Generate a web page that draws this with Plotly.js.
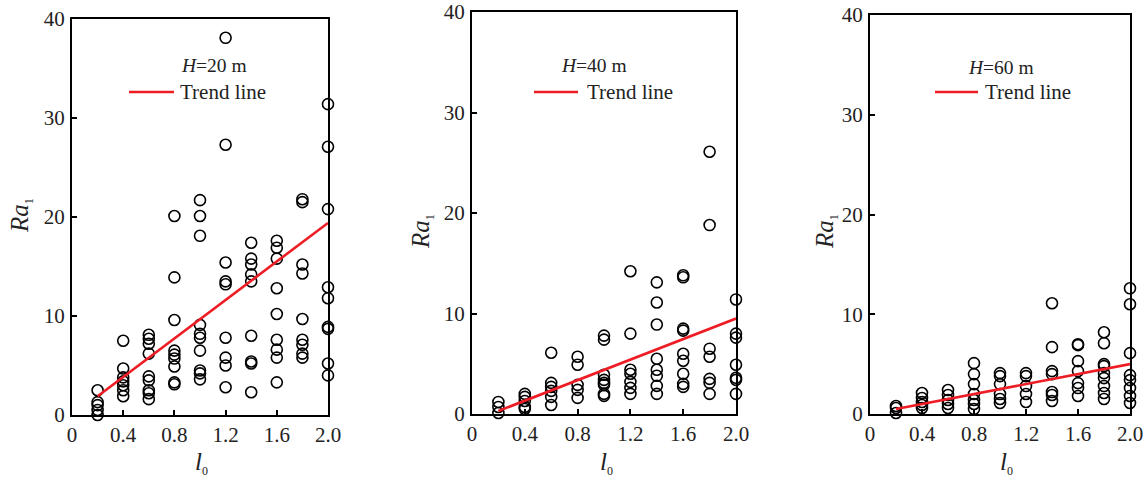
<!DOCTYPE html>
<html>
<head>
<meta charset="utf-8">
<script src="https://cdn.plot.ly/plotly-3.0.1.min.js"></script>
<style>html,body{margin:0;padding:0;background:#fff}#chart{width:1147px;height:478px}</style>
</head>
<body>
<div id="chart"></div>
<script>
// ---- Data ----
const lengths = [0.2, 0.4, 0.6, 0.8, 1.0, 1.2, 1.4, 1.6, 1.8, 2.0];

// H = 20 m : Ra1 values per l0 column
const h20 = [
  [2.5, 1.3, 1.0, 0.5, 0.0],
  [7.5, 4.7, 3.8, 3.4, 3.0, 2.5, 1.9],
  [8.1, 7.7, 7.2, 6.2, 3.9, 3.5, 2.5, 2.2, 1.6],
  [20.1, 13.9, 9.6, 6.5, 6.1, 5.7, 4.9, 3.3, 3.1],
  [21.7, 20.1, 18.1, 9.1, 8.2, 7.8, 6.5, 4.5, 4.2, 3.6],
  [38.1, 27.3, 15.4, 13.5, 13.2, 7.8, 5.8, 5.0, 2.8],
  [17.4, 15.8, 15.2, 14.2, 13.5, 8.0, 5.4, 5.2, 2.3],
  [17.6, 16.9, 15.8, 12.8, 10.2, 7.6, 6.6, 5.8, 3.3],
  [21.8, 21.5, 15.2, 14.3, 9.7, 7.6, 7.1, 6.2, 5.8],
  [31.4, 27.1, 20.8, 12.9, 11.8, 8.9, 8.7, 5.2, 4.0]
];
// H = 40 m
const h40 = [
  [1.2, 0.7, 0.1],
  [2.0, 1.7, 1.3, 0.7, 0.5],
  [6.1, 3.1, 2.7, 2.3, 1.7, 0.9],
  [5.7, 4.9, 2.9, 2.4, 1.6],
  [7.8, 7.4, 3.9, 3.4, 3.1, 2.9, 2.0, 1.8],
  [14.2, 8.0, 4.4, 4.0, 3.2, 2.6, 2.0],
  [13.1, 11.1, 8.9, 5.5, 4.4, 3.8, 2.8, 2.0],
  [13.8, 13.6, 8.5, 8.3, 6.0, 5.3, 4.0, 3.0, 2.7],
  [26.1, 18.8, 6.5, 5.7, 3.5, 3.1, 2.0],
  [11.4, 8.0, 7.6, 4.9, 3.6, 3.4, 2.0]
];
// H = 60 m
const h60 = [
  [0.8, 0.6, 0.1],
  [2.1, 1.6, 1.2, 0.9, 0.6],
  [2.4, 1.9, 1.4, 1.0, 0.6],
  [5.1, 4.0, 3.0, 2.0, 1.4, 1.0, 0.5],
  [4.1, 3.8, 3.0, 2.0, 1.5, 1.1],
  [4.1, 3.8, 2.8, 2.0, 1.2],
  [11.1, 6.7, 4.3, 4.0, 2.2, 1.9, 1.3],
  [7.0, 6.9, 5.3, 4.3, 3.1, 2.6, 1.8],
  [8.2, 7.1, 5.0, 4.8, 4.1, 3.6, 2.8, 2.1, 1.5],
  [12.6, 11.0, 6.1, 3.9, 3.4, 2.6, 1.8, 1.1]
];

// Trend lines (start / end)
const trendX = [0.2, 2.0];
const trend20 = [1.9, 19.4];
const trend40 = [0.3, 9.5];
const trend60 = [0.5, 5.0];

const panelLabels = ["<i>H</i>=20 m", "<i>H</i>=40 m", "<i>H</i>=60 m"];
const legendText = "Trend line";
const yTitle = '<i>Ra</i><sub><span style="font-size:12px">1</span></sub>';
const xTitle = '<i>l</i><sub><span style="font-size:12px">0</span></sub>';
const xTickVals = [0, 0.4, 0.8, 1.2, 1.6, 2.0];
const xTickText = ["0", "0.4", "0.8", "1.2", "1.6", "2.0"];
const yTickVals = [0, 10, 20, 30, 40];

// ---- Build ----
const W = 1147, H = 478;
const px = v => v / W;
const py = v => 1 - v / H;
const FONT = 'Liberation Serif';

function flatten(groups) {
  const xs = [], ys = [];
  groups.forEach((g, i) => g.forEach(v => { xs.push(lengths[i]); ys.push(v); }));
  return {xs, ys};
}

const datasets = [h20, h40, h60];
const trends = [trend20, trend40, trend60];
const traces = [];
datasets.forEach((d, i) => {
  const f = flatten(d);
  const xa = i === 0 ? 'x' : 'x' + (i + 1);
  const ya = i === 0 ? 'y' : 'y' + (i + 1);
  traces.push({
    x: f.xs, y: f.ys, xaxis: xa, yaxis: ya, type: 'scatter', mode: 'markers',
    cliponaxis: false, showlegend: false, hoverinfo: 'x+y',
    marker: {symbol: 'circle-open', size: 11, color: '#000', line: {width: 1.6, color: '#000'}}
  });
  traces.push({
    x: trendX, y: trends[i], xaxis: xa, yaxis: ya, type: 'scatter', mode: 'lines',
    cliponaxis: false, showlegend: false,
    line: {color: '#ee1c24', width: 2.6}
  });
});

// pixel geometry of the three frames
const frames = [
  {l: 72, r: 328, t: 19, b: 415},
  {l: 472, r: 736, t: 12, b: 414},
  {l: 870, r: 1130, t: 15, b: 414}
];

const layout = {
  width: W, height: H,
  margin: {l: 0, r: 0, t: 0, b: 0},
  paper_bgcolor: '#fff', plot_bgcolor: '#fff',
  font: {family: FONT, size: 21, color: '#222'},
  showlegend: false,
  annotations: [], shapes: []
};

frames.forEach((fr, i) => {
  const sx = i === 0 ? '' : String(i + 1);
  layout['xaxis' + sx] = {
    domain: [px(fr.l), px(fr.r)], anchor: 'y' + sx, range: [0, 2.0],
    tickvals: xTickVals, ticktext: xTickText, ticks: 'inside', ticklen: 5, tickwidth: 1.5,
    tickcolor: '#000', showline: true, linecolor: '#000', linewidth: 2, mirror: true,
    showgrid: false, zeroline: false, automargin: false, ticklabelstandoff: 0,
    tickfont: {family: FONT, size: 21, color: '#222'}
  };
  layout['yaxis' + sx] = {
    domain: [py(fr.b), py(fr.t)], anchor: 'x' + sx, range: [0, 40],
    tickvals: yTickVals, ticks: 'inside', ticklen: 5, tickwidth: 1.5,
    tickcolor: '#000', showline: true, linecolor: '#000', linewidth: 2, mirror: true,
    showgrid: false, zeroline: false, automargin: false, ticklabelstandoff: 1,
    tickfont: {family: FONT, size: 21, color: '#222'}
  };
});

// Axis titles and in-plot labels (pixel positions)
const yTitlePos = [{x: 21, y: 216}, {x: 422, y: 232}, {x: 826, y: 232}];
const xTitlePos = [{x: 201, y: 463}, {x: 606, y: 463}, {x: 1006, y: 463}];
const hLabelPos = [{x: 214, y: 66}, {x: 594, y: 66}, {x: 1001, y: 67}];
const legLine = [{x0: 129, x1: 174, y: 92}, {x0: 534, x1: 578, y: 92}, {x0: 935, x1: 978, y: 92}];
const legTextX = [178, 585, 983];

for (let i = 0; i < 3; i++) {
  layout.annotations.push({
    xref: 'paper', yref: 'paper', x: px(yTitlePos[i].x), y: py(yTitlePos[i].y),
    text: yTitle, showarrow: false, textangle: -90,
    xanchor: 'center', yanchor: 'middle', font: {family: FONT, size: 25, color: '#222'}
  });
  layout.annotations.push({
    xref: 'paper', yref: 'paper', x: px(xTitlePos[i].x), y: py(xTitlePos[i].y),
    text: xTitle, showarrow: false,
    xanchor: 'center', yanchor: 'middle', font: {family: FONT, size: 25, color: '#222'}
  });
  layout.annotations.push({
    xref: 'paper', yref: 'paper', x: px(hLabelPos[i].x), y: py(hLabelPos[i].y),
    text: panelLabels[i], showarrow: false,
    xanchor: 'center', yanchor: 'middle', font: {family: FONT, size: 19.5, color: '#222'}
  });
  layout.annotations.push({
    xref: 'paper', yref: 'paper', x: px(legTextX[i]), y: py(legLine[i].y),
    text: legendText, showarrow: false,
    xanchor: 'left', yanchor: 'middle', font: {family: FONT, size: 21, color: '#222'}
  });
  layout.shapes.push({
    type: 'line', xref: 'paper', yref: 'paper',
    x0: px(legLine[i].x0), x1: px(legLine[i].x1), y0: py(legLine[i].y), y1: py(legLine[i].y),
    line: {color: '#ee1c24', width: 2.6}
  });
}

Plotly.newPlot('chart', traces, layout, {displayModeBar: false});
</script>
</body>
</html>
